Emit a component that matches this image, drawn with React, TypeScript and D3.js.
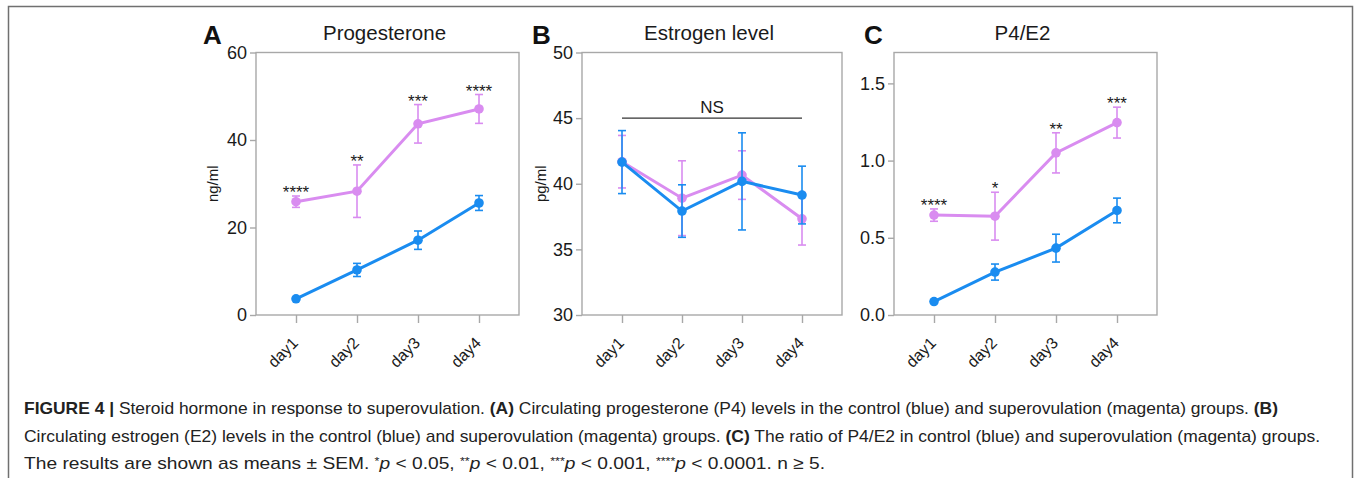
import React, { useEffect, useRef } from 'react';
import * as d3 from 'd3';

// days on the x axis
const days = ['day1', 'day2', 'day3', 'day4'];

// A: progesterone, ng/ml
const progCtrl = [3.7, 10.3, 17.1, 25.6];
const progCtrlSem = [0.3, 1.5, 2.1, 1.7];
const progSup = [25.9, 28.3, 43.7, 47.1];
const progSupSem = [1.3, 6.0, 4.4, 3.3];
const progStars = ['****', '**', '***', '****'];
const progTicks = [0, 20, 40, 60];

// B: estrogen, pg/ml
const estCtrl = [41.65, 37.92, 40.18, 39.14];
const estCtrlSem = [2.4, 2.0, 3.7, 2.2];
const estSup = [41.68, 38.9, 40.66, 37.33];
const estSupSem = [2.0, 2.85, 1.85, 2.0];
const estTicks = [30, 35, 40, 45, 50];

// C: P4/E2 ratio
const ratioCtrl = [0.087, 0.278, 0.433, 0.677];
const ratioCtrlSem = [0.01, 0.052, 0.09, 0.08];
const ratioSup = [0.647, 0.64, 1.05, 1.246];
const ratioSupSem = [0.04, 0.155, 0.13, 0.1];
const ratioStars = ['****', '*', '**', '***'];
const ratioTicks = [0, 0.5, 1.0, 1.5];

const BLUE = '#1a8cf0';
const MAGENTA = '#d98cf0';
const AXIS = '#a8a8a8';
const FONT = '"Liberation Sans", Arial, Helvetica, sans-serif';
const CAP_FONT = '"Liberation Sans Narrow", "Liberation Sans", Arial, sans-serif';

const panels = [
  {
    letter: 'A', title: 'Progesterone', yLabel: 'ng/ml', left: 256, right: 519,
    domain: [0, 60], ticks: progTicks, fmt: d3.format('d'),
    ctrl: progCtrl, ctrlSem: progCtrlSem, sup: progSup, supSem: progSupSem, stars: progStars,
    letterX: 203, labelX: 213,
  },
  {
    letter: 'B', title: 'Estrogen level', yLabel: 'pg/ml', left: 582, right: 842,
    domain: [30, 50], ticks: estTicks, fmt: d3.format('d'),
    ctrl: estCtrl, ctrlSem: estCtrlSem, sup: estSup, supSem: estSupSem, stars: null,
    letterX: 532, labelX: 541,
  },
  {
    letter: 'C', title: 'P4/E2', yLabel: '', left: 894, right: 1157,
    domain: [0, 1.7], ticks: ratioTicks, fmt: d3.format('.1f'),
    ctrl: ratioCtrl, ctrlSem: ratioCtrlSem, sup: ratioSup, supSem: ratioSupSem, stars: ratioStars,
    letterX: 864, labelX: 0,
  },
];

// caption lines, segments: [text, kind]
const captionLines = [
  [
    ['FIGURE 4 | ', 'b'],
    ['Steroid hormone in response to superovulation. ', 'n'],
    ['(A)', 'b'],
    [' Circulating progesterone (P4) levels in the control (blue) and superovulation (magenta) groups. ', 'n'],
    ['(B)', 'b'],
  ],
  [
    ['Circulating estrogen (E2) levels in the control (blue) and superovulation (magenta) groups. ', 'n'],
    ['(C)', 'b'],
    [' The ratio of P4/E2 in control (blue) and superovulation (magenta) groups.', 'n'],
  ],
  [
    ['The results are shown as means \u00b1 SEM. ', 'n'],
    ['*', 's'], ['p', 'i'], [' < 0.05, ', 'n'],
    ['**', 's'], ['p', 'i'], [' < 0.01, ', 'n'],
    ['***', 's'], ['p', 'i'], [' < 0.001, ', 'n'],
    ['****', 's'], ['p', 'i'], [' < 0.0001. n \u2265 5.', 'n'],
  ],
];
const captionEnds = [1278, 1320, 825];

const App = () => {
  const ref = useRef(null);

  useEffect(() => {
    const svg = d3.select(ref.current);
    svg.selectAll('*').remove();

    // outer frame
    svg.append('path')
      .attr('d', 'M8.5,490 V6.5 H1352.5 V490')
      .attr('fill', 'none')
      .attr('stroke', '#707070')
      .attr('stroke-width', 1.5);

    const top = 52.5;
    const bottom = 315;

    panels.forEach((p) => {
      const g = svg.append('g');
      const x = d3.scalePoint().domain(days).range([p.left + 40, p.right - 40]);
      const y = d3.scaleLinear().domain(p.domain).range([bottom, top]);

      // box
      g.append('rect')
        .attr('x', p.left).attr('y', top)
        .attr('width', p.right - p.left).attr('height', bottom - top)
        .attr('fill', 'none').attr('stroke', AXIS).attr('stroke-width', 1.4);

      // y axis
      const ya = g.append('g').attr('transform', `translate(${p.left},0)`)
        .call(d3.axisLeft(y).tickValues(p.ticks).tickFormat(p.fmt).tickSize(6).tickPadding(3));
      ya.select('.domain').remove();
      ya.selectAll('line').attr('stroke', AXIS).attr('stroke-width', 1.4);
      ya.selectAll('text').attr('font-family', FONT).attr('font-size', 18).attr('fill', '#1a1a1a');

      // x axis
      const xa = g.append('g').attr('transform', `translate(0,${bottom})`)
        .call(d3.axisBottom(x).tickSize(8).tickFormat(() => ''));
      xa.select('.domain').remove();
      xa.selectAll('line').attr('stroke', AXIS).attr('stroke-width', 1.4);
      g.selectAll('.xlab').data(days).enter().append('text')
        .attr('transform', (d) => `translate(${x(d) + 3},${bottom + 29}) rotate(-45)`)
        .attr('text-anchor', 'end')
        .attr('font-family', FONT).attr('font-size', 16).attr('fill', '#1a1a1a')
        .text((d) => d);

      // title + letter
      g.append('text')
        .attr('x', (p.left + p.right) / 2 - 3).attr('y', 40)
        .attr('text-anchor', 'middle')
        .attr('font-family', FONT).attr('font-size', 20.5).attr('fill', '#1a1a1a')
        .text(p.title);
      g.append('text')
        .attr('x', p.letterX).attr('y', 44)
        .attr('font-family', FONT).attr('font-size', 26).attr('font-weight', 'bold').attr('fill', '#111')
        .text(p.letter);

      if (p.yLabel) {
        g.append('text')
          .attr('transform', `translate(${p.labelX},${(top + bottom) / 2}) rotate(-90)`)
          .attr('text-anchor', 'middle').attr('dy', '0.35em')
          .attr('font-family', FONT).attr('font-size', 15).attr('fill', '#1a1a1a')
          .text(p.yLabel);
      }

      const series = [
        { vals: p.sup, sem: p.supSem, color: MAGENTA },
        { vals: p.ctrl, sem: p.ctrlSem, color: BLUE },
      ];
      series.forEach((s) => {
        const eb = g.append('g').attr('stroke', s.color).attr('stroke-width', 1.6);
        days.forEach((d, i) => {
          const cx = x(d);
          const y1 = y(s.vals[i] + s.sem[i]);
          const y0 = y(s.vals[i] - s.sem[i]);
          eb.append('line').attr('x1', cx).attr('x2', cx).attr('y1', y1).attr('y2', y0);
          eb.append('line').attr('x1', cx - 4).attr('x2', cx + 4).attr('y1', y1).attr('y2', y1);
          eb.append('line').attr('x1', cx - 4).attr('x2', cx + 4).attr('y1', y0).attr('y2', y0);
        });
        const line = d3.line().x((d, i) => x(days[i])).y((d) => y(d));
        g.append('path').attr('d', line(s.vals))
          .attr('fill', 'none').attr('stroke', s.color).attr('stroke-width', 3);
        g.selectAll(null).data(s.vals).enter().append('circle')
          .attr('cx', (d, i) => x(days[i])).attr('cy', (d) => y(d))
          .attr('r', 4.8).attr('fill', s.color);
      });

      if (p.stars) {
        g.selectAll(null).data(p.stars).enter().append('text')
          .attr('x', (d, i) => x(days[i]))
          .attr('y', (d, i) => y(p.sup[i] + p.supSem[i]) + 2)
          .attr('text-anchor', 'middle')
          .attr('font-family', FONT).attr('font-size', 17).attr('fill', '#1a1a1a')
          .text((d) => d);
      } else {
        // NS bracket
        const yNS = y(45);
        g.append('line')
          .attr('x1', x(days[0])).attr('x2', x(days[3]))
          .attr('y1', yNS).attr('y2', yNS)
          .attr('stroke', '#333').attr('stroke-width', 1.2);
        g.append('text')
          .attr('x', (x(days[0]) + x(days[3])) / 2).attr('y', yNS - 5)
          .attr('text-anchor', 'middle')
          .attr('font-family', FONT).attr('font-size', 17).attr('fill', '#1a1a1a')
          .text('NS');
      }
    });

    // caption
    const cap = svg.append('g').attr('fill', '#222').attr('font-family', CAP_FONT).attr('font-size', 17);
    captionLines.forEach((segs, li) => {
      const t = cap.append('text')
        .attr('x', 24).attr('y', 414 + li * 27.5)
        .attr('textLength', captionEnds[li] - 24)
        .attr('lengthAdjust', 'spacingAndGlyphs');
      segs.forEach(([txt, kind]) => {
        const ts = t.append('tspan').text(txt);
        if (kind === 'b') ts.attr('font-weight', 'bold');
        if (kind === 'i') ts.attr('font-style', 'italic');
        if (kind === 's') ts.attr('font-size', 11).attr('baseline-shift', '40%');
      });
    });
  }, []);

  return (
    <svg
      ref={ref}
      width={1356}
      height={478}
      style={{ position: 'absolute', left: 0, top: 0, display: 'block', background: '#fff' }}
    />
  );
};

export default App;
